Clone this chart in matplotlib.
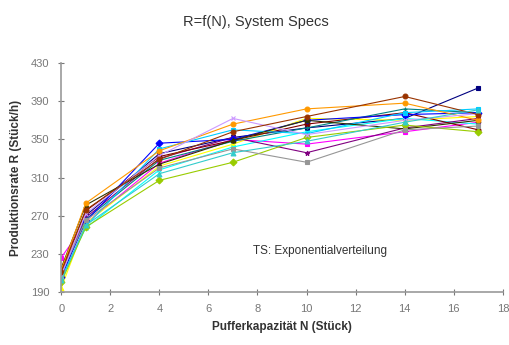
import matplotlib.pyplot as plt

plt.rcParams['font.family'] = ['Liberation Sans', 'DejaVu Sans']

N = [0, 1, 4, 7, 10, 14, 17]

# Produktionsrate je Simulationslauf
s01 = [205, 270, 335, 352, 362, 372, 404]
s02 = [226, 262, 325, 350, 345, 358, 368]
s03 = [194, 262, 322, 345, 372, 370, 374]
s04 = [205, 257, 318, 342, 358, 372, 366]
s05 = [210, 268, 330, 352, 336, 362, 372]
s06 = [212, 275, 332, 349, 366, 378, 360]
s07 = [208, 266, 328, 348, 362, 382, 378]
s08 = [206, 264, 346, 350, 370, 376, 378]
s09 = [203, 259, 340, 360, 356, 378, 382]
s10 = [215, 281, 324, 349, 370, 361, 370]
s11 = [213, 283, 338, 366, 382, 388, 370]
s12 = [200, 258, 307, 326, 352, 365, 358]
s13 = [209, 265, 320, 340, 326, 360, 364]
s14 = [207, 272, 333, 372, 355, 370, 377]
s15 = [211, 276, 329, 358, 374, 395, 376]
s16 = [202, 260, 314, 336, 348, 368, 381]

series = [s01, s02, s03, s04, s05, s06, s07, s08,
          s09, s10, s11, s12, s13, s14, s15, s16]
colors = ["#000080", "#ff00ff", "#ffff00", "#00ffff", "#800080", "#800000",
          "#008080", "#0000ff", "#00ccff", "#333300", "#ff9900", "#99cc00",
          "#969696", "#cc99ff", "#993300", "#33cccc"]
markers = ["s", "s", "^", "x", "*", "o", "+", "D",
           "s", "^", "o", "D", "s", "x", "o", "^"]

fig = plt.figure(figsize=(5.1, 3.45), dpi=100)
ax = fig.add_axes([0.12, 0.154, 0.866, 0.663])

for vals, c, m in zip(series, colors, markers):
    ax.plot(N, vals, color=c, marker=m, markersize=3.5, linewidth=0.8,
            markeredgewidth=0.8)

ax.set_xlim(0, 18)
ax.set_ylim(190, 430)
ax.set_xticks(range(0, 19, 2))
ax.set_yticks(range(190, 431, 40))

for side in ["top", "right"]:
    ax.spines[side].set_visible(False)
for side in ["left", "bottom"]:
    ax.spines[side].set_color("#999999")
    ax.spines[side].set_linewidth(1.2)
ax.tick_params(direction="inout", length=5, width=0.8, color="#777777",
               labelsize=8, labelcolor="#777777", pad=6)

ax.set_xlabel("Pufferkapazität N (Stück)", fontsize=8.5, fontweight="bold",
              color="#333333", labelpad=5)
ax.set_ylabel("Produktionsrate R (Stück/h)", fontsize=8.5, fontweight="bold",
              color="#333333", labelpad=6)
fig.text(0.502, 0.935, "R=f(N), System Specs", ha="center", va="center",
         fontsize=10.5, color="#333333")
ax.text(7.8, 233, "TS: Exponentialverteilung", fontsize=8.5, color="#333333",
        va="center")

fig.savefig("out.png", dpi=100)
